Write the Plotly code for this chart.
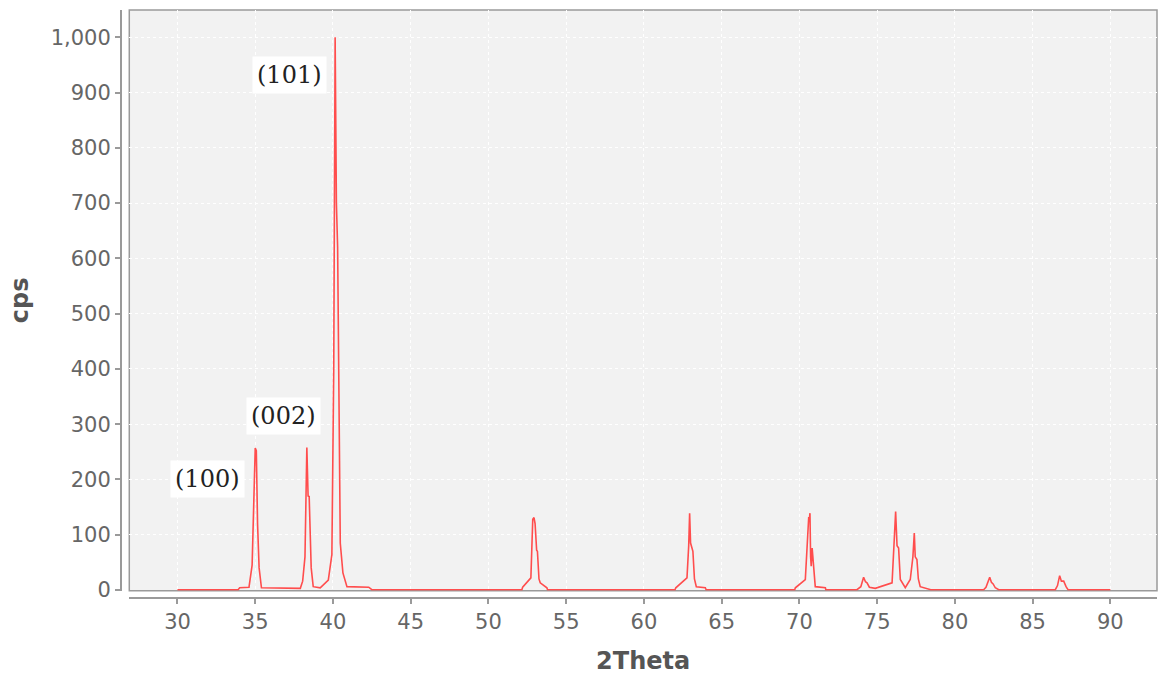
import plotly.graph_objects as go

two_theta = [30.0, 33.9, 34.0, 34.6, 34.8, 34.95, 35.0, 35.07, 35.15, 35.25, 35.4,
             37.9, 38.05, 38.2, 38.32, 38.4, 38.47, 38.6, 38.73, 39.18, 39.7, 39.93,
             40.05, 40.14, 40.22, 40.3, 40.4, 40.47, 40.64, 40.9, 42.3, 42.5,
             52.15, 52.2, 52.73, 52.85, 52.93, 53.0, 53.1, 53.15, 53.25, 53.33, 53.76, 53.8,
             62.0, 62.05, 62.77, 62.88, 62.94, 63.0, 63.09, 63.15, 63.25, 63.37, 63.95, 64.0,
             69.7, 69.74, 70.38, 70.55, 70.6, 70.64, 70.68, 70.72, 70.76, 70.82, 70.9, 71.02, 71.67, 71.7,
             73.7, 73.95, 74.13, 74.25, 74.35, 74.5, 74.88, 75.0, 75.96, 76.1, 76.19, 76.28, 76.38,
             76.49, 76.81, 77.13, 77.3, 77.39, 77.45, 77.56, 77.65, 77.77, 78.42, 78.45,
             81.85, 82.0, 82.24, 82.35, 82.46, 82.6, 82.82,
             86.46, 86.6, 86.74, 86.85, 87.0, 87.15, 87.28, 90.0]
cps = [0.5, 0.5, 4, 5, 45, 250, 257, 252, 120, 40, 4,
       3, 16, 60, 258, 170, 169, 40, 6, 4, 18, 64,
       400, 1000, 700, 620, 250, 85, 31, 6, 5, 0.5,
       0.5, 5, 22, 128, 131, 120, 72, 70, 20, 13, 4, 0.5,
       0.5, 4, 22, 80, 139, 85, 76, 70, 20, 6, 4, 0.5,
       0.5, 4, 19, 125, 132, 128, 139, 60, 43, 76, 40, 6, 4, 0.5,
       0.5, 6, 23, 15, 13, 5, 3, 4, 13, 91, 142, 80, 76,
       19, 4, 19, 60, 103, 60, 55, 20, 6, 2, 0.5,
       0.5, 5, 23, 14, 11, 4, 0.5,
       0.5, 8, 26, 16, 16, 6, 0.5, 0.5]

x_ticks = [30, 35, 40, 45, 50, 55, 60, 65, 70, 75, 80, 85, 90]

peak_labels = ["(100)", "(002)", "(101)"]
label_x = [31.91, 36.8, 37.19]
label_y = [201, 315, 932]

fig = go.Figure()
fig.add_trace(go.Scatter(x=two_theta, y=cps, mode="lines",
                         line=dict(color="#ff4d4d", width=1.6),
                         showlegend=False, hoverinfo="x+y"))

for t, xx, yy in zip(peak_labels, label_x, label_y):
    fig.add_annotation(x=xx, y=yy, text=t, showarrow=False,
                       font=dict(family="DejaVu Serif", size=24, color="#222"),
                       bgcolor="white", borderpad=4)

fig.add_shape(type="rect", xref="x domain", yref="y domain", x0=0, x1=1, y0=0, y1=1,
              line=dict(color="#9a9a9a", width=1.5), layer="below")

tick_font = dict(family="DejaVu Sans", size=21, color="#666")
title_font = dict(family="DejaVu Sans", size=24, color="#555", weight="bold")

fig.update_layout(
    width=1158, height=676,
    margin=dict(l=121, r=1, t=10, b=78, pad=0),
    paper_bgcolor="white", plot_bgcolor="#f2f2f2",
    xaxis=dict(domain=[0.008, 1], range=[26.9, 93.0], anchor="free", position=0,
               showline=True, linecolor="#9a9a9a", linewidth=2,
               ticks="outside", ticklen=5, tickwidth=2, tickcolor="#9a9a9a",
               tickvals=x_ticks, tickfont=tick_font,
               showgrid=True, gridcolor="white", griddash="dot", gridwidth=1,
               zeroline=False,
               title=dict(text="2Theta", font=title_font, standoff=18)),
    yaxis=dict(domain=[0.0124, 1], range=[-1.3, 1049.4], anchor="free", position=0,
               showline=True, linecolor="#9a9a9a", linewidth=2,
               ticks="outside", ticklen=5, tickwidth=2, tickcolor="#9a9a9a",
               dtick=100, tick0=0, tickformat=",", tickfont=tick_font,
               showgrid=True, gridcolor="white", griddash="dot", gridwidth=1,
               zeroline=False,
               title=dict(text="cps", font=title_font, standoff=14)),
)

fig.write_html("out.html", config={"displayModeBar": False},
               post_script="document.body.style.margin='0';document.body.style.overflow='hidden';")
